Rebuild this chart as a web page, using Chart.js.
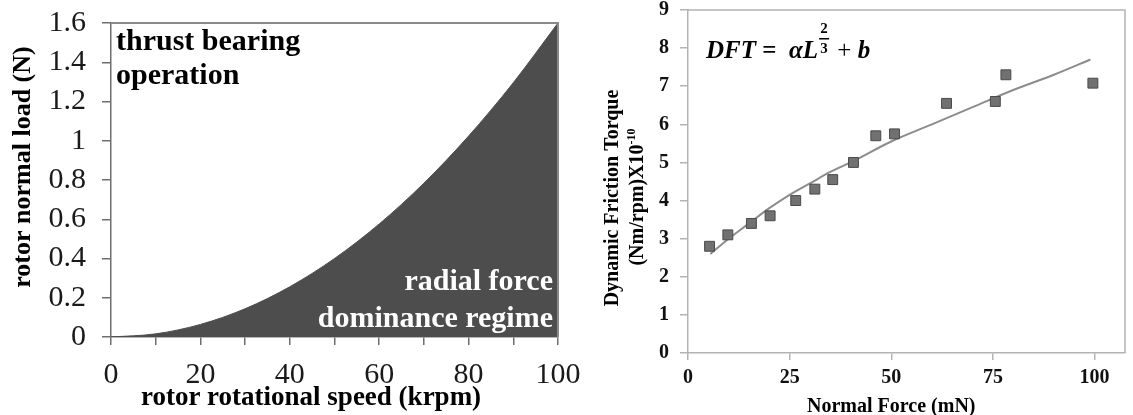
<!DOCTYPE html>
<html lang="en">
<head>
<meta charset="UTF-8">
<title>Rotor load regimes and dynamic friction torque</title>
<script src="https://cdn.jsdelivr.net/npm/chart.js"></script>
<style>
  body { margin: 0; background: #fff; }
  #wrap { position: relative; width: 1133px; height: 415px; overflow: hidden; }
  #leftBox { position: absolute; left: 0; top: 0; width: 600px; height: 415px; }
  #rightBox { position: absolute; left: 575px; top: 0; width: 558px; height: 415px; z-index: 1; }
</style>
</head>
<body>
<div id="wrap">
  <div id="leftBox"><canvas id="loadChart"></canvas></div>
  <div id="rightBox"><canvas id="torqueChart"></canvas></div>
</div>
<script>
// left panel: boundary between thrust bearing and radial force regimes
const speedKrpm = [0, 10, 20, 30, 40, 50, 60, 70, 80, 90, 100];
const normalLoadN = [0, 0.016, 0.064, 0.144, 0.256, 0.4, 0.576, 0.784, 1.024, 1.296, 1.6];
const speedLabels = [0, 20, 40, 60, 80, 100];
const loadLabels = ['0', '0.2', '0.4', '0.6', '0.8', '1', '1.2', '1.4', '1.6'];

// right panel: measured torque and the L^(2/3) fit
const forceMN = [5.3, 9.8, 15.6, 20.2, 26.5, 31.2, 35.6, 40.7, 46.2, 50.8, 63.6, 75.6, 78.2, 99.6];
const torque = [2.8, 3.1, 3.4, 3.6, 4.0, 4.3, 4.55, 5.0, 5.7, 5.75, 6.55, 6.6, 7.3, 7.08];
const fitForce = [5.5, 10, 15, 20, 25, 30, 35, 40, 50, 60, 70, 80, 90, 99];
const fitTorque = [2.6, 3.0, 3.4, 3.8, 4.15, 4.45, 4.75, 5.0, 5.55, 6.0, 6.45, 6.9, 7.3, 7.7];
const forceLabels = [0, 25, 50, 75, 100];

const serif = '"Liberation Serif", "Times New Roman", serif';
Chart.defaults.font.family = serif;
Chart.defaults.color = '#111';
Chart.defaults.animation = false;
Chart.defaults.plugins.legend.display = false;
Chart.defaults.plugins.tooltip.enabled = false;

// fixed axis box sizes, no extra room for overhanging tick labels
function fixHeight(h) {
  return s => { s.height = h; s.paddingLeft = 0; s.paddingRight = 0; };
}
function fixWidth(w) {
  return s => { s.width = w; s.paddingTop = 0; s.paddingBottom = 0; };
}

// top and right edge of the plot box
const framePlugin = {
  id: 'frame',
  afterDatasetsDraw(chart, args, opts) {
    const { left, top, right, bottom } = chart.chartArea;
    const ctx = chart.ctx;
    ctx.save();
    ctx.strokeStyle = opts.color;
    ctx.lineWidth = opts.width;
    ctx.beginPath();
    ctx.moveTo(left, top);
    ctx.lineTo(right, top);
    ctx.lineTo(right, bottom);
    ctx.stroke();
    ctx.restore();
  }
};

// plain text items (titles, region labels)
const textPlugin = {
  id: 'freeText',
  afterDraw(chart, args, opts) {
    const ctx = chart.ctx;
    for (const t of opts.items || []) {
      ctx.save();
      ctx.translate(t.x, t.y);
      if (t.rotate) ctx.rotate(-Math.PI / 2);
      ctx.font = t.font;
      ctx.fillStyle = t.color || '#000';
      ctx.textAlign = t.align || 'center';
      ctx.textBaseline = 'middle';
      ctx.fillText(t.text, 0, 0);
      ctx.restore();
    }
  }
};

new Chart(document.getElementById('loadChart'), {
  type: 'line',
  data: {
    datasets: [{
      data: speedKrpm.map((s, i) => ({ x: s, y: normalLoadN[i] })),
      fill: 'origin',
      backgroundColor: '#4d4d4d',
      borderColor: '#4d4d4d',
      borderWidth: 1,
      pointRadius: 0,
      cubicInterpolationMode: 'monotone'
    }]
  },
  options: {
    responsive: true,
    maintainAspectRatio: false,
    layout: { padding: { top: 23, right: 42, left: 0, bottom: 0 } },
    scales: {
      x: {
        type: 'linear',
        min: 0, max: 100,
        afterFit: fixHeight(78),
        border: { color: '#6f6f6f', width: 1.5 },
        grid: { drawOnChartArea: false, tickLength: 8, color: '#6f6f6f', lineWidth: 1.5 },
        ticks: {
          stepSize: 10, autoSkip: false, maxRotation: 0, padding: 12,
          color: '#1a1a1a', font: { size: 30 },
          callback: v => speedLabels.includes(v) ? String(v) : ''
        }
      },
      y: {
        min: 0, max: 1.6,
        afterFit: fixWidth(111),
        border: { color: '#6f6f6f', width: 1.5 },
        grid: { drawOnChartArea: false, tickLength: 9, color: '#6f6f6f', lineWidth: 1.5 },
        ticks: {
          stepSize: 0.2, autoSkip: false, padding: 16,
          color: '#1a1a1a', font: { size: 30 },
          callback: v => loadLabels[Math.round(v / 0.2)]
        }
      }
    },
    plugins: {
      frame: { color: '#8a8a8a', width: 2 },
      freeText: {
        items: [
          { text: 'thrust bearing', x: 116, y: 42, align: 'left', font: 'bold 30px ' + serif },
          { text: 'operation', x: 116, y: 76, align: 'left', font: 'bold 30px ' + serif },
          { text: 'radial force', x: 553, y: 282, align: 'right', color: '#fff', font: 'bold 30px ' + serif },
          { text: 'dominance regime', x: 553, y: 319, align: 'right', color: '#fff', font: 'bold 30px ' + serif },
          { text: 'rotor rotational speed (krpm)', x: 311, y: 398, font: 'bold 27px ' + serif },
          { text: 'rotor normal load (N)', x: 23, y: 167, rotate: true, font: 'bold 26px ' + serif }
        ]
      }
    }
  },
  plugins: [framePlugin, textPlugin]
});

// formula and the two-line y title with superscript
const torqueTextPlugin = {
  id: 'torqueText',
  afterDraw(chart) {
    const ctx = chart.ctx;
    ctx.save();
    ctx.fillStyle = '#000';
    ctx.textBaseline = 'alphabetic';
    ctx.textAlign = 'left';

    // DFT = αL^(2/3) + b
    let x = 131;
    const base = 58;
    const parts = [
      ['DFT', 'italic bold 25px ' + serif],
      [' =  ', 'bold 25px ' + serif],
      ['\u03b1L', 'italic bold 25px ' + serif]
    ];
    for (const [txt, f] of parts) {
      ctx.font = f;
      ctx.fillText(txt, x, base);
      x += ctx.measureText(txt).width;
    }
    ctx.font = 'bold 15px ' + serif;
    ctx.textAlign = 'center';
    ctx.fillText('2', x + 6, 33);
    ctx.fillText('3', x + 6, 53);
    ctx.fillRect(x + 1, 38, 10, 1.5);
    ctx.textAlign = 'left';
    x += 13;
    ctx.font = '25px ' + serif;
    ctx.fillText(' + ', x, base);
    x += ctx.measureText(' + ').width;
    ctx.font = 'italic bold 25px ' + serif;
    ctx.fillText('b', x, base);

    // rotated y title
    ctx.font = 'bold 20px ' + serif;
    ctx.save();
    ctx.translate(36, 198);
    ctx.rotate(-Math.PI / 2);
    ctx.textAlign = 'center';
    ctx.fillText('Dynamic Friction Torque', 0, 7);
    ctx.restore();

    ctx.save();
    ctx.translate(61, 197);
    ctx.rotate(-Math.PI / 2);
    const main = '(Nm/rpm)X10', sup = '-10';
    ctx.font = 'bold 20px ' + serif;
    const wMain = ctx.measureText(main).width;
    ctx.font = 'bold 12px ' + serif;
    const wSup = ctx.measureText(sup).width;
    const start = -(wMain + wSup) / 2;
    ctx.font = 'bold 20px ' + serif;
    ctx.fillText(main, start, 7);
    ctx.font = 'bold 12px ' + serif;
    ctx.fillText(sup, start + wMain, -1);
    ctx.restore();

    // x title centred under the 50 mN tick
    ctx.font = 'bold 20px ' + serif;
    ctx.textAlign = 'center';
    ctx.fillText('Normal Force (mN)', chart.scales.x.getPixelForValue(50), 412);
    ctx.restore();
  }
};

new Chart(document.getElementById('torqueChart'), {
  type: 'scatter',
  data: {
    datasets: [{
      data: forceMN.map((f, i) => ({ x: f, y: torque[i] })),
      pointStyle: 'rect',
      pointRadius: 7,
      backgroundColor: '#717171',
      borderColor: '#4a4a4a',
      borderWidth: 1
    }, {
      data: fitForce.map((f, i) => ({ x: f, y: fitTorque[i] })),
      showLine: true,
      pointRadius: 0,
      borderColor: '#8c8c8c',
      borderWidth: 2,
      cubicInterpolationMode: 'monotone'
    }]
  },
  options: {
    responsive: true,
    maintainAspectRatio: false,
    layout: { padding: { top: 10, right: 1, left: 0, bottom: 0 } },
    scales: {
      x: {
        type: 'linear',
        min: 0, max: 107.5,
        afterFit: fixHeight(62),
        afterBuildTicks: s => { s.ticks = forceLabels.map(v => ({ value: v })); },
        border: { color: '#b3b3b3', width: 1.5 },
        grid: { drawOnChartArea: false, tickLength: 7, color: '#b3b3b3', lineWidth: 1.5 },
        ticks: {
          autoSkip: false, maxRotation: 0, padding: 6,
          color: '#111', font: { size: 20, weight: 'bold' }
        }
      },
      y: {
        min: 0, max: 9,
        afterFit: fixWidth(113),
        border: { color: '#b3b3b3', width: 1.5 },
        grid: { drawOnChartArea: false, tickLength: 8, color: '#b3b3b3', lineWidth: 1.5 },
        ticks: {
          stepSize: 1, padding: 11,
          color: '#111', font: { size: 20, weight: 'bold' }
        }
      }
    },
    plugins: {
      frame: { color: '#b3b3b3', width: 1.5 }
    }
  },
  plugins: [framePlugin, torqueTextPlugin]
});
</script>
</body>
</html>
